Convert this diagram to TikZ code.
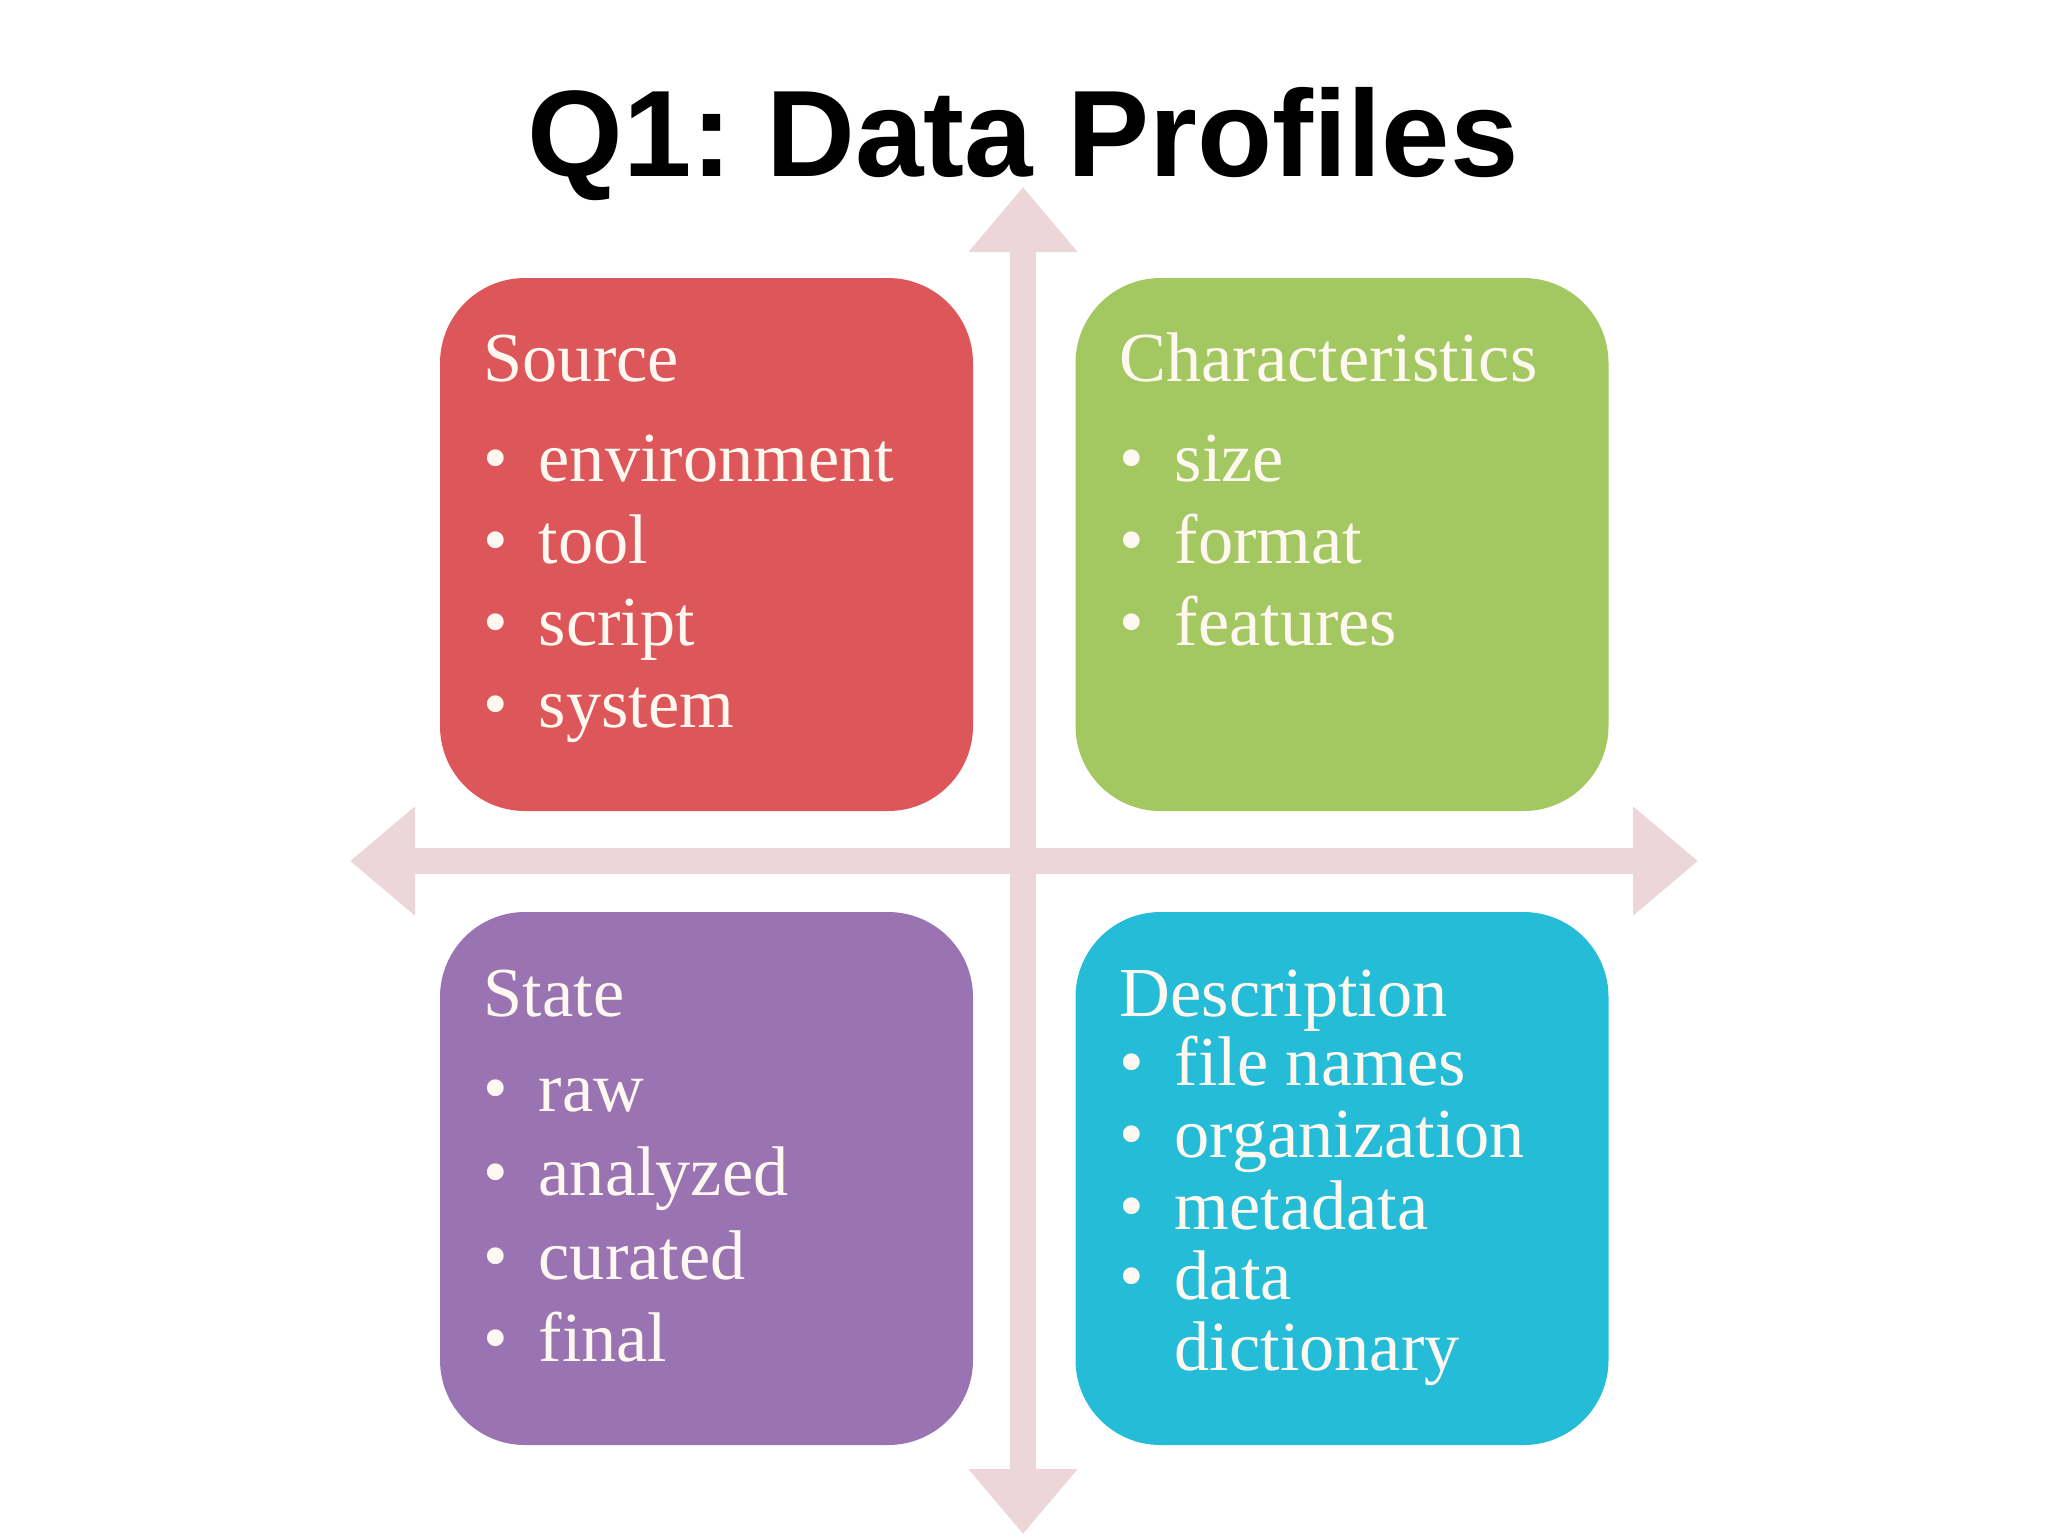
\documentclass[tikz,border=0pt]{standalone}
\usepackage{fontspec}
\setmainfont{Liberation Serif}
\newfontfamily\titlefont{Liberation Sans}
\usetikzlibrary{arrows.meta,positioning}
\frenchspacing
\definecolor{srcred}{RGB}{221,86,89}
\definecolor{chrgreen}{RGB}{163,200,98}
\definecolor{stapurple}{RGB}{154,115,178}
\definecolor{dsccyan}{RGB}{36,188,214}
\definecolor{axispink}{RGB}{236,214,218}
\definecolor{boxtext}{RGB}{255,248,240}
\tikzset{
  quad/.style={ draw=none, fill=#1, rounded corners=8.5mm, minimum width=53.3mm, minimum height=53.3mm }
}
\tikzset{
  boxtxt/.style={ anchor=base west, inner sep=0pt, text=boxtext, font=\fontsize{20}{24}\selectfont }
}
\tikzset{
  axis/.style={ draw=axispink, line width=2.6mm, {Triangle[width=10.5mm,length=6.5mm]}-{Triangle[width=10.5mm,length=6.5mm]} }
}
\newcommand{\bul}{\makebox[5.5mm][l]{\textbullet}}

\begin{document}
\begin{tikzpicture}[x=0.1mm, y=-0.1mm]
      \useasboundingbox (0,0) rectangle (2048,1536);
      \node[anchor=base, inner sep=0pt, font=\titlefont\bfseries\fontsize{35}{40}\selectfont] (title) at (1023,176) {Q1: Data Profiles};

      % axes
      \coordinate (up) at (1023,187);
      \coordinate (down) at (1023,1534);
      \coordinate (left) at (350,861);
      \coordinate (right) at (1698,861);
      \draw[axis] (left) -- (right);
      \draw[axis] (up) -- (down);

      \node[quad=srcred] (src) at (706.5,544.5) {};
      \node[quad=chrgreen] (chr) at (1342,544.5) {};
      \node[quad=stapurple] (sta) at (706.5,1178.5) {};
      \node[quad=dsccyan] (dsc) at (1342,1178.5) {};

      \node[boxtxt] (srcH) at (483,381) {Source};
      \node[boxtxt] (src1) at (483,481) {\bul environment};
      \node[boxtxt] (src2) at (483,563) {\bul tool};
      \node[boxtxt] (src3) at (483,645) {\bul script};
      \node[boxtxt] (src4) at (483,727) {\bul system};

      \node[boxtxt] (chrH) at (1119,381) {Characteristics};
      \node[boxtxt] (chr1) at (1119,481) {\bul size};
      \node[boxtxt] (chr2) at (1119,563) {\bul format};
      \node[boxtxt] (chr3) at (1119,645) {\bul features};

      \node[boxtxt] (staH) at (483,1016) {State};
      \node[boxtxt] (sta1) at (483,1111) {\bul raw};
      \node[boxtxt] (sta2) at (483,1195) {\bul analyzed};
      \node[boxtxt] (sta3) at (483,1279) {\bul curated};
      \node[boxtxt] (sta4) at (483,1361) {\bul final};

      \node[boxtxt] (dscH) at (1119,1016) {Description};
      \node[boxtxt] (dsc1) at (1119,1085) {\bul file names};
      \node[boxtxt] (dsc2) at (1119,1157) {\bul organization};
      \node[boxtxt] (dsc3) at (1119,1229) {\bul metadata};
      \node[boxtxt] (dsc4) at (1119,1299) {\bul data};
      \node[boxtxt] (dsc5) at (1119,1370) {\makebox[5.5mm]{}dictionary};
\end{tikzpicture}
\end{document}
